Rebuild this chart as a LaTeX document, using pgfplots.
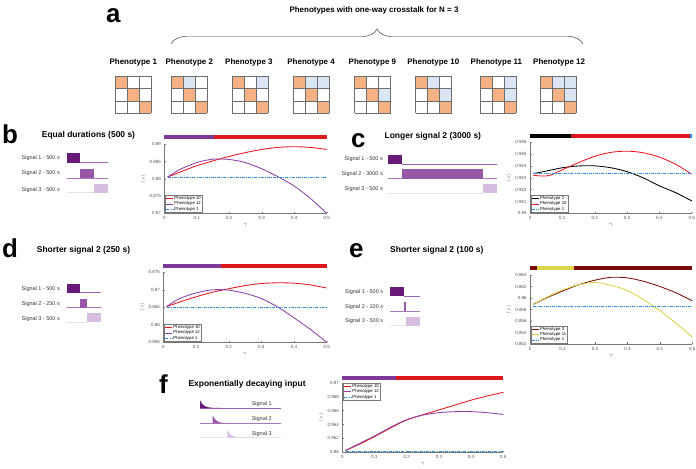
\documentclass[border=0pt]{standalone}
\usepackage{fontspec}
\setmainfont{Liberation Sans}
\usepackage{pgfplots}
\pgfplotsset{compat=1.18}
\usetikzlibrary{decorations.pathreplacing}

\definecolor{cred}{RGB}{232,22,28}
\definecolor{cpurple}{RGB}{142,64,168}
\definecolor{pblue}{RGB}{40,140,230}
\definecolor{cmaroon}{RGB}{122,12,12}
\definecolor{cyellow}{RGB}{221,212,72}
\definecolor{barpurple}{RGB}{125,58,150}
\definecolor{barred}{RGB}{220,24,28}
\definecolor{axgray}{RGB}{120,120,120}
\definecolor{tickgray}{RGB}{80,80,80}
\definecolor{gorange}{RGB}{244,177,131}
\definecolor{gblue}{RGB}{218,230,244}
\definecolor{ggray}{RGB}{110,110,110}
\definecolor{sA}{RGB}{104,26,120}
\definecolor{sAl}{RGB}{160,100,180}
\definecolor{sB}{RGB}{152,88,168}
\definecolor{sBl}{RGB}{175,120,190}
\definecolor{sC}{RGB}{215,190,225}
\definecolor{sCl}{RGB}{236,224,240}

\pgfplotsset{
 panel/.style={
  scale only axis,
  axis x line*=bottom, axis y line*=left,
  axis line style={draw=axgray, line width=0.4bp, -},
  every tick/.style={draw=axgray, line width=0.3bp},
  major tick length=1.6bp,
  tick align=inside,
  xmin=0, xmax=0.5, xtick={0,0.1,0.2,0.3,0.4,0.5},
  scaled ticks=false,
  /pgf/number format/assume math mode=true,
  ticklabel style={font=\fontsize{4.5}{5}\selectfont, text=tickgray},
  xticklabel style={/pgf/number format/fixed, /pgf/number format/precision=1},
  yticklabel style={/pgf/number format/fixed, /pgf/number format/precision=3},
  xlabel={$\gamma$}, ylabel={$\langle s\rangle$},
  label style={font=\fontsize{4.5}{5}\selectfont, text=tickgray},
  xlabel style={yshift=3bp},
  ylabel style={yshift=-3bp},
  legend cell align=left,
  legend style={font=\fontsize{4.3}{4.8}\selectfont, draw=axgray, line width=0.3bp, fill=white,
    inner xsep=0.8bp, inner ysep=0.4bp, at={(0.004,0.01)}, anchor=south west,
    nodes={inner sep=0.4bp}},
  legend image code/.code={\draw[#1] (0bp,0bp) -- (7bp,0bp);},
  clip=false,
  every axis plot/.append style={line width=0.85bp},
 },
 pone/.style={draw=pblue, line width=1.1bp, dash pattern=on 3bp off 1.2bp on 0.8bp off 1.2bp},
 bar/.style={line width=3.8bp, forget plot},
}

\newcommand{\pgridframe}{%
  \foreach \i in {0,12,24,36} \draw[ggray, line width=0.5bp] (\i,0) -- (\i,37.4);
  \foreach \j in {0,12.47,24.93,37.4} \draw[ggray, line width=0.5bp] (0,\j) -- (36,\j);
}
\newcommand{\pdiag}{%
  \fill[gorange] (0,0) rectangle (12,12.47);
  \fill[gorange] (12,12.47) rectangle (24,24.93);
  \fill[gorange] (24,24.93) rectangle (36,37.4);
}
\newcommand{\bcell}[2]{\fill[gblue] (#1*12-12,#2*12.47-12.47) rectangle ++(12,12.47);}

\begin{document}
\begin{tikzpicture}
\path[use as bounding box] (0,0) rectangle (696bp,-469bp);

% ---------- overlay axis for the signal cartoons ----------
\begin{axis}[at={(0,0)}, anchor=north west, scale only axis, width=696bp, height=469bp,
  xmin=0, xmax=696, ymin=0, ymax=469, y dir=reverse, hide axis, clip=false]
% b
\addplot[sAl, line width=0.6bp] coordinates {(80.3,162.7)(107.7,162.7)};
\addplot[fill=sA, draw=none] coordinates {(66.7,153.3)(80.3,153.3)(80.3,162.7)(66.7,162.7)} -- cycle;
\addplot[sBl, line width=0.6bp] coordinates {(66.7,178)(107.7,178)};
\addplot[fill=sB, draw=none] coordinates {(80.3,169.3)(93.7,169.3)(93.7,178)(80.3,178)} -- cycle;
\addplot[sCl, line width=0.6bp] coordinates {(66.7,192.7)(94,192.7)};
\addplot[fill=sC, draw=none] coordinates {(94,184.3)(107.7,184.3)(107.7,192.7)(94,192.7)} -- cycle;
% c
\addplot[sAl, line width=0.6bp] coordinates {(401.7,164)(496.7,164)};
\addplot[fill=sA, draw=none] coordinates {(388.3,155)(401.7,155)(401.7,164)(388.3,164)} -- cycle;
\addplot[sBl, line width=0.6bp] coordinates {(388.3,178.7)(496.7,178.7)};
\addplot[fill=sB, draw=none] coordinates {(401.7,169.3)(483.3,169.3)(483.3,178.7)(401.7,178.7)} -- cycle;
\addplot[sCl, line width=0.6bp] coordinates {(388.3,193.3)(483.3,193.3)};
\addplot[fill=sC, draw=none] coordinates {(483.3,184.3)(496.7,184.3)(496.7,193.3)(483.3,193.3)} -- cycle;
% d
\addplot[sAl, line width=0.6bp] coordinates {(80.3,292.7)(101,292.7)};
\addplot[fill=sA, draw=none] coordinates {(66.7,284)(80.3,284)(80.3,292.7)(66.7,292.7)} -- cycle;
\addplot[sBl, line width=0.6bp] coordinates {(66.7,307.7)(101,307.7)};
\addplot[fill=sB, draw=none] coordinates {(80.3,299)(87.1,299)(87.1,307.7)(80.3,307.7)} -- cycle;
\addplot[sCl, line width=0.6bp] coordinates {(66.7,322.3)(87.1,322.3)};
\addplot[fill=sC, draw=none] coordinates {(87.1,313.3)(101,313.3)(101,322.3)(87.1,322.3)} -- cycle;
% e
\addplot[sAl, line width=0.6bp] coordinates {(403.6,296)(420,296)};
\addplot[fill=sA, draw=none] coordinates {(390,287.3)(403.6,287.3)(403.6,296)(390,296)} -- cycle;
\addplot[sBl, line width=0.6bp] coordinates {(390,311)(420,311)};
\addplot[fill=sB, draw=none] coordinates {(403.6,302.3)(406.3,302.3)(406.3,311)(403.6,311)} -- cycle;
\addplot[sCl, line width=0.6bp] coordinates {(390,325.7)(406.3,325.7)};
\addplot[fill=sC, draw=none] coordinates {(406.3,316.7)(420,316.7)(420,325.7)(406.3,325.7)} -- cycle;
% f
\addplot[sAl, line width=0.6bp] coordinates {(200,408)(281,408)};
\addplot[fill=sA, draw=none] coordinates {(200,408)(200,400)(201,402.0)(202,403.49)(203,404.61)(204,405.45)(205,406.08)(206,406.56)(208,407.19)(210,407.54)(213,407.8)(217,407.94)(222,408)} -- cycle;
\addplot[sBl, line width=0.6bp] coordinates {(200,423.3)(281,423.3)};
\addplot[fill=sB, draw=none] coordinates {(212.7,423.3)(212.7,415.3)(213.7,417.3)(214.7,418.79)(215.7,419.91)(216.7,420.75)(217.7,421.38)(218.7,421.86)(220.7,422.49)(222.7,422.84)(225.7,423.1)(229.7,423.24)(234.7,423.3)} -- cycle;
\addplot[sCl, line width=0.6bp] coordinates {(200,437.7)(281,437.7)};
\addplot[fill=sC, draw=none] coordinates {(227.3,437.7)(227.3,429.7)(228.3,431.7)(229.3,433.19)(230.3,434.31)(231.3,435.15)(232.3,435.78)(233.3,436.26)(235.3,436.89)(237.3,437.24)(240.3,437.5)(244.3,437.64)(249.3,437.7)} -- cycle;
\end{axis}

% ---------- text, grids, brace ----------
\begin{scope}[x=1bp, y=-1bp]
\tikzset{let/.style={anchor=base west, inner sep=0pt, font=\fontsize{26}{26}\selectfont\bfseries}}
\node[let] at (106,22) {a};
\node[let] at (2,143) {b};
\node[let] at (351,147) {c};
\node[let] at (2,257) {d};
\node[let] at (349,257) {e};
\node[let] at (159,393) {f};

\node[font=\fontsize{8}{9}\selectfont\bfseries] at (374,10) {Phenotypes with one-way crosstalk for N = 3};
\draw[black!80, line width=0.45bp, decorate, decoration={brace, amplitude=15bp}] (171,44) -- (583,44);

\tikzset{ph/.style={font=\fontsize{8}{9}\selectfont\bfseries, inner sep=0pt}}
\node[ph] at (133.3,62) {Phenotype 1};
\node[ph] at (189.3,62) {Phenotype 2};
\node[ph] at (248.9,62) {Phenotype 3};
\node[ph] at (311.1,62) {Phenotype 4};
\node[ph] at (372.4,62) {Phenotype 9};
\node[ph] at (433.3,62) {Phenotype 10};
\node[ph] at (496.4,62) {Phenotype 11};
\node[ph] at (559.1,62) {Phenotype 12};

\begin{scope}[shift={(115.1,76)}] \pdiag \pgridframe \end{scope}
\begin{scope}[shift={(171.1,76)}] \pdiag \bcell{2}{1} \pgridframe \end{scope}
\begin{scope}[shift={(232.4,76)}] \pdiag \bcell{3}{1} \pgridframe \end{scope}
\begin{scope}[shift={(293.3,76)}] \pdiag \bcell{2}{1}\bcell{3}{1} \pgridframe \end{scope}
\begin{scope}[shift={(354.5,76)}] \pdiag \bcell{3}{2} \pgridframe \end{scope}
\begin{scope}[shift={(415.5,76)}] \pdiag \bcell{2}{1}\bcell{3}{2} \pgridframe \end{scope}
\begin{scope}[shift={(480.2,76)}] \pdiag \bcell{3}{1}\bcell{3}{2} \pgridframe \end{scope}
\begin{scope}[shift={(540.3,76)}] \pdiag \bcell{2}{1}\bcell{3}{1}\bcell{3}{2} \pgridframe \end{scope}

\tikzset{ttl/.style={anchor=west, inner sep=0pt, font=\fontsize{8.5}{9}\selectfont\bfseries}}
\node[ttl] at (41.7,135) {Equal durations (500 s)};
\node[ttl] at (384.4,136) {Longer signal 2 (3000 s)};
\node[ttl] at (36.7,250) {Shorter signal 2 (250 s)};
\node[ttl] at (390,250) {Shorter signal 2 (100 s)};
\node[ttl] at (188.3,384.3) {Exponentially decaying input};

\tikzset{sg/.style={anchor=east, inner sep=0pt, font=\fontsize{5.5}{6}\selectfont, text=black!80}}
\node[sg] at (60,157.8) {Signal 1 - 500 s};
\node[sg] at (60,173.2) {Signal 2 - 500 s};
\node[sg] at (60,189.6) {Signal 3 - 500 s};
\node[sg] at (383,159.5) {Signal 1 - 500 s};
\node[sg] at (383,174.5) {Signal 2 - 3000 s};
\node[sg] at (383,189.5) {Signal 3 - 500 s};
\node[sg] at (60,289.5) {Signal 1 - 500 s};
\node[sg] at (60,304.5) {Signal 2 - 250 s};
\node[sg] at (60,319.5) {Signal 3 - 500 s};
\node[sg] at (383.3,292) {Signal 1 - 500 s};
\node[sg] at (383.3,306.7) {Signal 2 - 100 s};
\node[sg] at (383.3,321.5) {Signal 3 - 500 s};
\tikzset{sf/.style={anchor=center, inner sep=0pt, font=\fontsize{5.5}{6}\selectfont, text=black!80}}
\node[sf] at (261.7,404.5) {Signal 1};
\node[sf] at (261.7,419.3) {Signal 2};
\node[sf] at (261.7,433.7) {Signal 3};
\end{scope}

% ---------- panel b ----------
\begin{axis}[panel, at={(164.3bp,-213.3bp)}, anchor=south west, width=162.4bp, height=69bp,
  ymin=0.87, ymax=0.89, ytick={0.87,0.875,0.88,0.885,0.89}]
\addplot[cred, smooth] coordinates {(0.01,0.8805)(0.05,0.8820)(0.1,0.8838)(0.15,0.8852)(0.2,0.8865)(0.25,0.8876)(0.3,0.8885)(0.35,0.8891)(0.4,0.8893)(0.45,0.8891)(0.5,0.8885)};
\addlegendentry{Phenotype 10}
\addplot[cpurple, smooth] coordinates {(0.01,0.8805)(0.05,0.8828)(0.1,0.8847)(0.15,0.8857)(0.2,0.8856)(0.25,0.8847)(0.3,0.8829)(0.35,0.8806)(0.4,0.8779)(0.45,0.8743)(0.5,0.8700)};
\addlegendentry{Phenotype 12}
\addplot[pone] coordinates {(0.01,0.8805)(0.5,0.8805)};
\addlegendentry{Phenotype 1}
\addplot[barpurple, bar] coordinates {(0,0.89203)(0.154,0.89203)};
\addplot[barred, bar] coordinates {(0.154,0.89203)(0.5,0.89203)};
\end{axis}

% ---------- panel c ----------
\begin{axis}[panel, at={(530bp,-213.3bp)}, anchor=south west, width=161.7bp, height=71bp,
  ymin=0.94, ymax=0.946, ytick={0.94,0.941,0.942,0.943,0.944,0.945,0.946}]
\addplot[black, smooth] coordinates {(0.01,0.94335)(0.05,0.94357)(0.1,0.94385)(0.15,0.94400)(0.2,0.94401)(0.25,0.94385)(0.3,0.94352)(0.35,0.94300)(0.4,0.94232)(0.45,0.94175)(0.5,0.94105)};
\addlegendentry{Phenotype 2}
\addplot[cred, smooth] coordinates {(0.01,0.94322)(0.03,0.94316)(0.06,0.94320)(0.1,0.94368)(0.15,0.94428)(0.2,0.94482)(0.25,0.94515)(0.3,0.94525)(0.35,0.94512)(0.4,0.94475)(0.45,0.94415)(0.5,0.94330)};
\addlegendentry{Phenotype 10}
\addplot[pone] coordinates {(0.01,0.94333)(0.5,0.94333)};
\addlegendentry{Phenotype 1}
\addplot[black, bar] coordinates {(0,0.94653)(0.126,0.94653)};
\addplot[barred, bar] coordinates {(0.126,0.94653)(0.494,0.94653)};
\addplot[pblue, bar] coordinates {(0.494,0.94653)(0.5,0.94653)};
\end{axis}

% ---------- panel d ----------
\begin{axis}[panel, at={(163.3bp,-342.3bp)}, anchor=south west, width=163.4bp, height=70bp,
  ymin=0.855, ymax=0.875, ytick={0.855,0.86,0.865,0.87,0.875}]
\addplot[cred, smooth] coordinates {(0.01,0.8652)(0.05,0.8665)(0.1,0.8680)(0.15,0.8693)(0.2,0.8703)(0.25,0.8712)(0.3,0.8718)(0.35,0.8720)(0.4,0.8719)(0.45,0.8714)(0.5,0.8705)};
\addlegendentry{Phenotype 10}
\addplot[cpurple, smooth] coordinates {(0.01,0.8652)(0.05,0.8675)(0.1,0.8691)(0.15,0.8700)(0.2,0.8699)(0.25,0.8690)(0.3,0.8675)(0.35,0.8651)(0.4,0.8620)(0.45,0.8587)(0.5,0.8550)};
\addlegendentry{Phenotype 12}
\addplot[pone] coordinates {(0.01,0.8650)(0.5,0.8650)};
\addlegendentry{Phenotype 1}
\addplot[barpurple, bar] coordinates {(0,0.8768)(0.177,0.8768)};
\addplot[barred, bar] coordinates {(0.177,0.8768)(0.5,0.8768)};
\end{axis}

% ---------- panel e ----------
\begin{axis}[panel, at={(530bp,-344bp)}, anchor=south west, width=162.3bp, height=69bp,
  ymin=0.852, ymax=0.864, ytick={0.852,0.854,0.856,0.858,0.86,0.862,0.864}]
\addplot[cmaroon, smooth] coordinates {(0.01,0.8589)(0.05,0.8600)(0.1,0.8612)(0.15,0.8623)(0.2,0.8631)(0.25,0.8636)(0.3,0.8635)(0.35,0.8629)(0.4,0.8620)(0.45,0.8609)(0.5,0.8595)};
\addlegendentry{Phenotype 3}
\addplot[cyellow, smooth] coordinates {(0.01,0.8589)(0.05,0.8601)(0.1,0.8614)(0.15,0.8623)(0.2,0.8627)(0.25,0.8622)(0.3,0.8613)(0.35,0.8597)(0.4,0.8578)(0.45,0.8556)(0.5,0.8532)};
\addlegendentry{Phenotype 11}
\addplot[pone] coordinates {(0.01,0.8586)(0.5,0.8586)};
\addlegendentry{Phenotype 1}
\addplot[cmaroon, bar] coordinates {(0,0.86527)(0.0225,0.86527)};
\addplot[cyellow, bar] coordinates {(0.0225,0.86527)(0.137,0.86527)};
\addplot[cmaroon, bar] coordinates {(0.137,0.86527)(0.5,0.86527)};
\end{axis}

% ---------- panel f ----------
\begin{axis}[panel, at={(342.3bp,-452.3bp)}, anchor=south west, width=161bp, height=69.5bp,
  ymin=0.96, ymax=0.97, ytick={0.96,0.962,0.964,0.966,0.968,0.97},
  legend style={at={(0.004,0.995)}, anchor=north west}]
\addplot[cred, smooth] coordinates {(0.01,0.96025)(0.05,0.9611)(0.1,0.96225)(0.15,0.9635)(0.2,0.96465)(0.25,0.9654)(0.3,0.9661)(0.35,0.9668)(0.4,0.9675)(0.45,0.9681)(0.5,0.96863)};
\addlegendentry{Phenotype 10}
\addplot[cpurple, smooth] coordinates {(0.01,0.96025)(0.05,0.9612)(0.1,0.96235)(0.15,0.9636)(0.2,0.9647)(0.25,0.96535)(0.3,0.9657)(0.35,0.96585)(0.4,0.96585)(0.45,0.9657)(0.5,0.96545)};
\addlegendentry{Phenotype 12}
\addplot[pone] coordinates {(0.01,0.96012)(0.5,0.96012)};
\addlegendentry{Phenotype 1}
\addplot[barpurple, bar] coordinates {(0,0.97073)(0.166,0.97073)};
\addplot[barred, bar] coordinates {(0.166,0.97073)(0.5,0.97073)};
\end{axis}
\end{tikzpicture}
\end{document}
